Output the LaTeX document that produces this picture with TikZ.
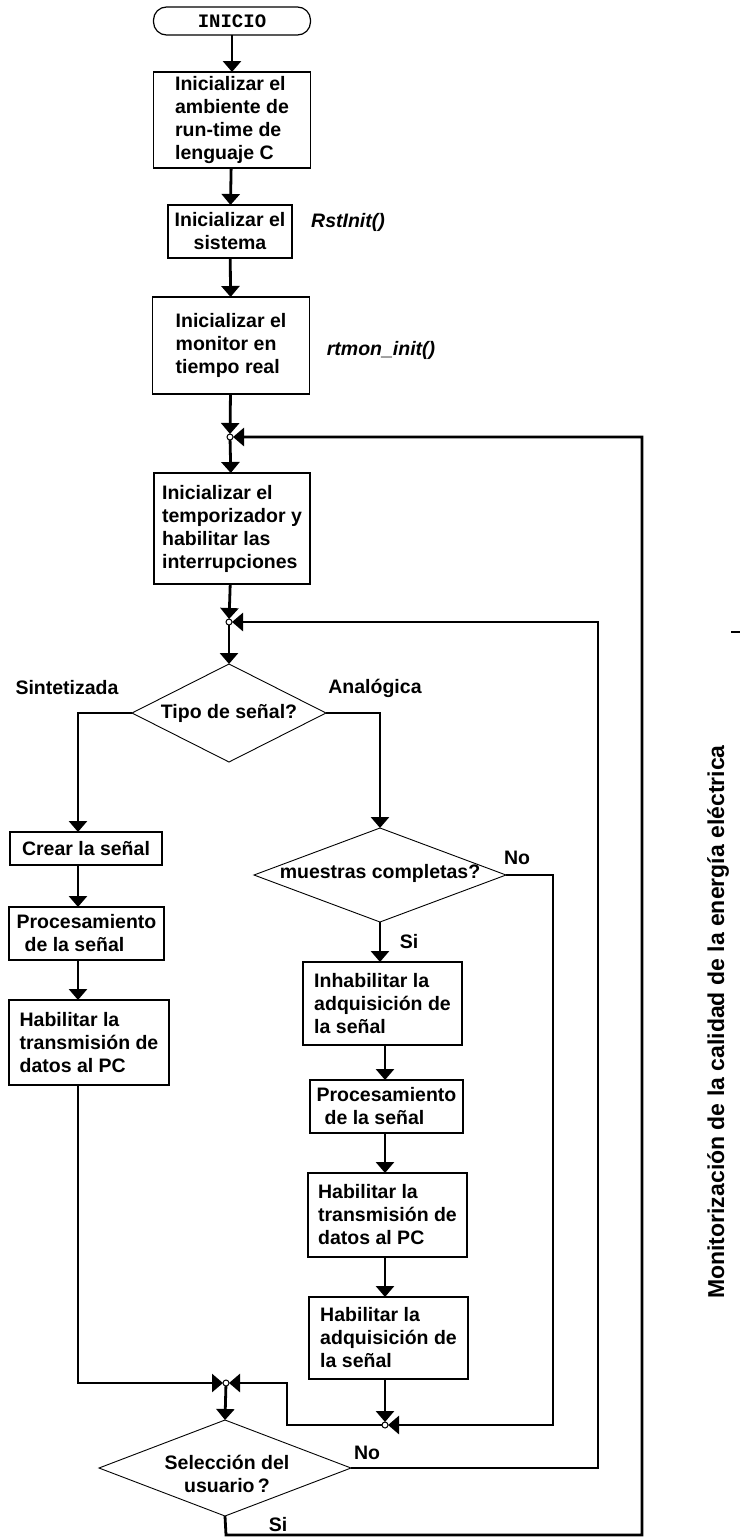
\documentclass[tikz,border=0pt]{standalone}
\usepackage{fontspec}
\setmainfont{Liberation Sans}
\newfontfamily\termfamily{Liberation Mono}
\usetikzlibrary{arrows.meta,shapes.geometric,calc}
\newcommand\flowfont{\fontsize{19.5}{23}\selectfont\bfseries}
\newcommand\codefont{\fontsize{19.5}{23}\selectfont\bfseries\itshape}
\newcommand\termfont{\termfamily\fontsize{19}{23}\selectfont\bfseries}
\newcommand\titlefont{\fontsize{23}{27}\selectfont\bfseries}

\begin{document}
\begin{tikzpicture}[x=1pt,y=-1pt,
  every node/.style={inner sep=0pt,outer sep=0pt},
  proc/.style={draw,line width=1.2pt,font=\flowfont,align=left},
  decision/.style={draw,diamond,line width=0.9pt},
  terminal/.style={draw,line width=1.2pt,rounded corners=13pt,font=\termfont,
    minimum width=157pt,minimum height=28pt},
  junction/.style={draw,circle,line width=1pt,fill=white,minimum size=6pt},
  lbl/.style={font=\flowfont,align=center},
  call/.style={font=\codefont},
  flow/.style={line width=2.8pt,-{Triangle[width=18pt,length=11pt]}},
]
\fill[white] (0,0) rectangle (743,1537);
\useasboundingbox (0,0) rectangle (743,1537);

% main column
\node[terminal] (start) at (232,21) {INICIO};
\node[proc,minimum width=157pt,minimum height=96pt] (b1) at (232,120)
  {Inicializar el\\ambiente de\\run-time de\\lenguaje C};
\node[proc,minimum width=124pt,minimum height=53pt,align=center] (b2) at (230,231.5)
  {Inicializar el\\sistema};
\node[call] (c1) at (348,222) {RstInit()};
\node[proc,minimum width=157pt,minimum height=97pt] (b3) at (231,345.5)
  {Inicializar el\\monitor en\\tiempo real};
\node[call] (c2) at (381,350) {rtmon\_init()};
\node[junction] (j1) at (230,437) {};
\node[proc,minimum width=156pt,minimum height=111pt] (b4) at (232,528.5)
  {Inicializar el\\temporizador y\\habilitar las\\interrupciones};
\node[junction] (j2) at (229,622) {};
\node[decision,minimum width=194pt,minimum height=98pt] (d1) at (229,713) {};
\node[lbl] (d1t) at (229,713) {Tipo de señal?};
\node[lbl] (ls) at (67,688) {Sintetizada};
\node[lbl] (la) at (375,688) {Analógica};

% synthesized branch
\coordinate (kl) at (78,1383);
\node[proc,minimum width=152pt,minimum height=33pt] (b5) at (86,848.5) {Crear la señal};
\node[proc,minimum width=155pt,minimum height=53pt] (b6) at (86.5,933.5)
  {Procesamiento\\\hspace*{8pt}de la señal};
\node[proc,minimum width=160pt,minimum height=85pt] (b7) at (89,1042.5)
  {Habilitar la\\transmisión de\\datos al PC};

% analog branch
\coordinate (kr) at (385,0);
\node[decision,minimum width=252pt,minimum height=94pt] (d2) at (380,875) {};
\node[lbl] (d2t) at (380,873) {muestras completas?};
\node[lbl] (ln1) at (517,858) {No};
\node[lbl] (ls1) at (409,942) {Si};
\node[proc,minimum width=159pt,minimum height=83pt] (b8) at (382.5,1003.5)
  {Inhabilitar la\\adquisición de\\la señal};
\node[proc,minimum width=153pt,minimum height=53pt] (b9) at (386.5,1106.5)
  {Procesamiento\\\hspace*{8pt}de la señal};
\node[proc,minimum width=159pt,minimum height=84pt] (b10) at (387.5,1215)
  {Habilitar la\\transmisión de\\datos al PC};
\node[proc,minimum width=159pt,minimum height=82pt] (b11) at (388.5,1338)
  {Habilitar la\\adquisición de\\la señal};
\node[junction] (j4) at (385,1425) {};

% user choice
\node[junction] (j3) at (226,1383) {};
\node[decision,minimum width=252pt,minimum height=96pt] (d3) at (225,1468) {};
\node[lbl] (d3t) at (227,1474) {Selección del\\usuario\,?};
\node[lbl] (ln2) at (367,1453) {No};
\node[lbl] (ls2) at (278,1525) {Si};

% loop corners
\coordinate (k4) at (553,1425);
\coordinate (k3) at (287,1425);
\coordinate (k2) at (598,622);
\coordinate (sw) at (226,1535);
\coordinate (se) at (642,1535);

% main connectors
\draw[flow] (start) -- (b1);
\draw[flow] (b1) -- (b2);
\draw[flow] (b2) -- (b3);
\draw[flow] (b3) -- (j1);
\draw[flow] (j1) -- (b4);
\draw[flow] (b4) -- (j2);
\draw[flow] (j2) -- (d1.north);

% synthesized branch connectors
\draw[flow] (d1.west) -| (b5.north -| kl);
\draw[flow] (b5.south -| kl) -- (b6.north -| kl);
\draw[flow] (b6.south -| kl) -- (b7.north -| kl);
\draw[flow] (b7.south -| kl) -- (kl) -- (j3);

% analog branch connectors
\draw[flow] (d1.east) -| (d2.north);
\draw[flow] (d2.south) -- (d2.south |- b8.north);
\draw[flow] (b8.south -| kr) -- (b9.north -| kr);
\draw[flow] (b9.south -| kr) -- (b10.north -| kr);
\draw[flow] (b10.south -| kr) -- (b11.north -| kr);
\draw[flow] (b11.south -| kr) -- (j4);
\draw[flow] (d2.east) -| (k4) -- (j4);
\draw[flow] (j4) -- (k3) |- (j3);

% choice connectors
\draw[flow] (j3) -- (d3.north);
\draw[flow] (d3.east) -| (k2) -- (j2);
\draw[flow] (d3.south) -- (sw) -- (se) |- (j1);

% side title
\node[font=\titlefont,rotate=90] (title) at (718,1022)
  {Monitorización de la calidad de la energía eléctrica};
\draw[line width=1.2pt] (731,632) -- (740,632);
\end{tikzpicture}
\end{document}
